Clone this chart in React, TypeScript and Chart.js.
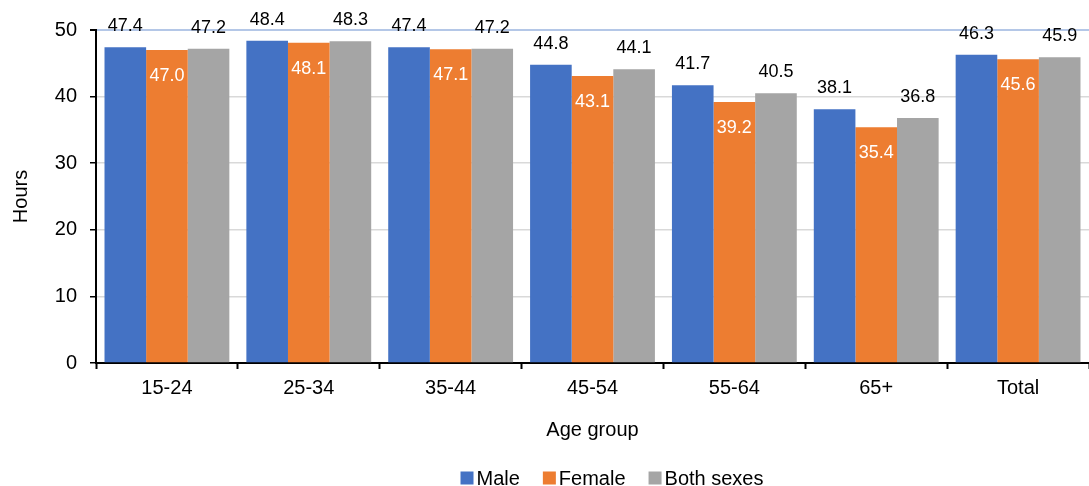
import React, { useEffect, useRef } from "react";
import { Chart, registerables } from "chart.js";

Chart.register(...registerables);

const categories = ["15-24", "25-34", "35-44", "45-54", "55-64", "65+", "Total"];
const maleValues = [47.4, 48.4, 47.4, 44.8, 41.7, 38.1, 46.3];
const femaleValues = [47.0, 48.1, 47.1, 43.1, 39.2, 35.4, 45.6];
const bothValues = [47.2, 48.3, 47.2, 44.1, 40.5, 36.8, 45.9];
const seriesNames = ["Male", "Female", "Both sexes"];
const seriesColors = ["#4472C4", "#ED7D31", "#A5A5A5"];

const FONT = "'Liberation Sans', Arial, sans-serif";

const labelPlugin = {
  id: "barLabels",
  afterDatasetsDraw(chart: any) {
    const ctx = chart.ctx;
    ctx.save();
    ctx.font = `18px ${FONT}`;
    ctx.textAlign = "center";
    ctx.textBaseline = "middle";
    chart.data.datasets.forEach((ds: any, i: number) => {
      const meta = chart.getDatasetMeta(i);
      meta.data.forEach((bar: any, j: number) => {
        const v = ds.data[j] as number;
        const txt = v.toFixed(1);
        if (i === 1) {
          ctx.fillStyle = "#FFFFFF";
          ctx.fillText(txt, bar.x, bar.y + 26);
        } else {
          ctx.fillStyle = "#000000";
          ctx.fillText(txt, bar.x, bar.y - 21);
        }
      });
    });
    ctx.restore();
  },
};

const legendPlugin = {
  id: "customLegend",
  afterDraw(chart: any) {
    const ctx = chart.ctx;
    ctx.save();
    ctx.font = `20px ${FONT}`;
    ctx.textBaseline = "middle";
    ctx.textAlign = "left";
    const box = 13;
    const gapBoxText = 3;
    const gapItems = 23;
    const widths = seriesNames.map((n) => ctx.measureText(n).width);
    const total =
      widths.reduce((a, w) => a + box + gapBoxText + w, 0) + gapItems * (seriesNames.length - 1);
    const centerX = 612;
    const cy = chart.height - 8;
    let x = centerX - total / 2;
    seriesNames.forEach((n, i) => {
      ctx.fillStyle = seriesColors[i];
      ctx.fillRect(x, cy - box / 2, box, box);
      x += box + gapBoxText;
      ctx.fillStyle = "#000";
      ctx.fillText(n, x, cy + 1);
      x += widths[i] + gapItems;
    });
    ctx.restore();
  },
};

export default function App() {
  const ref = useRef<HTMLCanvasElement | null>(null);
  useEffect(() => {
    if (!ref.current) return;
    const chart = new Chart(ref.current, {
      type: "bar",
      data: {
        labels: categories,
        datasets: [maleValues, femaleValues, bothValues].map((d, i) => ({
          label: seriesNames[i],
          data: d,
          backgroundColor: seriesColors[i],
          borderWidth: 0,
          categoryPercentage: 0.88,
          barPercentage: 1.0,
        })),
      },
      options: {
        animation: false,
        responsive: true,
        maintainAspectRatio: false,
        layout: { padding: { top: 30, right: 0, left: 0, bottom: 40 } },
        plugins: {
          legend: { display: false },
          tooltip: { enabled: false },
        },
        scales: {
          x: {
            grid: {
              offset: true,
              drawOnChartArea: false,
              drawTicks: true,
              tickLength: 6,
              tickColor: "#000",
              tickWidth: 2,
            },
            border: { color: "#000", width: 2 },
            ticks: { color: "#000", font: { size: 20, family: FONT }, padding: 7 },
            title: {
              display: true,
              text: "Age group",
              color: "#000",
              font: { size: 20, family: FONT },
              padding: { top: 11, bottom: 4 },
            },
          },
          y: {
            min: 0,
            max: 50,
            afterFit(scale: any) {
              scale.width = 96;
            },
            ticks: {
              stepSize: 10,
              color: "#000",
              font: { size: 20, family: FONT },
              padding: 13,
            },
            grid: {
              color: (c: any) => (c.tick && c.tick.value === 50 ? "#B4C7E7" : "#D9D9D9"),
              lineWidth: (c: any) => (c.tick && c.tick.value === 50 ? 2 : 1.5),
              drawTicks: true,
              tickLength: 6,
              tickColor: "#000",
            },
            border: { color: "#000", width: 2 },
            title: {
              display: true,
              text: "Hours",
              color: "#000",
              font: { size: 20, family: FONT },
              padding: { top: 9, bottom: 20 },
            },
          },
        },
      },
      plugins: [labelPlugin, legendPlugin],
    });
    return () => chart.destroy();
  }, []);
  return (
    <div style={{ position: "fixed", left: 0, top: 0, width: 1089, height: 486, background: "#fff" }}>
      <canvas ref={ref} />
    </div>
  );
}
